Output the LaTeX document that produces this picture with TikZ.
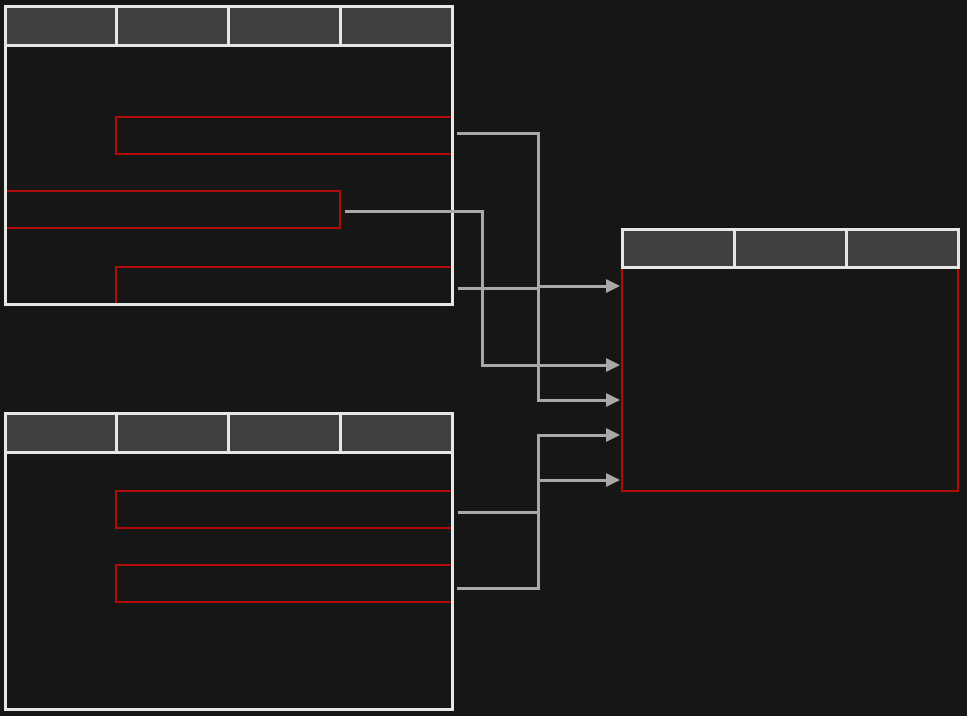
\documentclass[tikz,border=0pt]{standalone}
\usetikzlibrary{arrows.meta}
\definecolor{bg}{HTML}{161616}
\definecolor{hdr}{HTML}{404040}
\definecolor{frame}{HTML}{E6E6E6}
\definecolor{keyred}{HTML}{B00A0A}
\definecolor{link}{HTML}{A8A8A8}
\begin{document}
\begin{tikzpicture}[x=1pt, y=-1pt]
        \tikzstyle{every node}=[rectangle, inner sep=0pt, outer sep=0pt, anchor=north west]
        \tikzstyle{cell}=[draw=frame, fill=hdr, line width=3pt, minimum width=111.75pt, minimum height=39pt]
        \tikzstyle{body}=[fill=bg]
        \tikzstyle{keybox}=[draw=keyred, line width=2pt, minimum width=336pt, minimum height=37pt]
        \tikzstyle{tableline}=[draw=frame, line width=3pt]
        \tikzstyle{link}=[draw=link, line width=3pt, -{Triangle[length=14pt, width=13pt]}]
        \fill[bg] (0,0) rectangle (967,716);
        % top left table
        \node [body, minimum width=447pt, minimum height=259pt] (t1) at (5,45) {};
        \node [keybox] (r1) at (116,117) {};
        \node [keybox, minimum width=335pt] (r2) at (5,191) {};
        \node [keybox] (r3) at (116,267) {};
        \draw [tableline] (t1.north west) rectangle (t1.south east);
        \foreach \i in {0,...,3} \node [cell] (t1h\i) at (5+\i*111.75,6) {};
        % bottom left table
        \node [body, minimum width=447pt, minimum height=257pt] (t2) at (5,452) {};
        \node [keybox] (r4) at (116,491) {};
        \node [keybox] (r5) at (116,565) {};
        \draw [tableline] (t2.north west) rectangle (t2.south east);
        \foreach \i in {0,...,3} \node [cell] (t2h\i) at (5+\i*111.75,413) {};
        % right table
        \node [body, draw=keyred, line width=2.5pt, minimum width=336pt, minimum height=224pt] (t3) at (622,267) {};
        \foreach \i in {0,...,2} \node [cell, minimum width=112pt, minimum height=38pt] (t3h\i) at (622+\i*112,229) {};
        \coordinate (a1) at (620,286);
        \coordinate (a2) at (620,365);
        \coordinate (a3) at (620,400);
        \coordinate (a4) at (620,435);
        \coordinate (a5) at (620,480);
        % links
        \draw [link] ([xshift=5pt, yshift=2.5pt]r1.east) -- ++(81,0) |- (a3);
        \draw [link] ([xshift=5pt, yshift=-1.5pt]r2.east) -- ++(137,0) |- (a2);
        \draw [link] ([xshift=6pt, yshift=-2.5pt]r3.east) -- ++(80,0) |- (a1);
        \draw [link] ([xshift=6pt, yshift=-2.5pt]r4.east) -- ++(80,0) |- (a4);
        \draw [link] ([xshift=5pt, yshift=-4.5pt]r5.east) -- ++(81,0) |- (a5);
\end{tikzpicture}
\end{document}
